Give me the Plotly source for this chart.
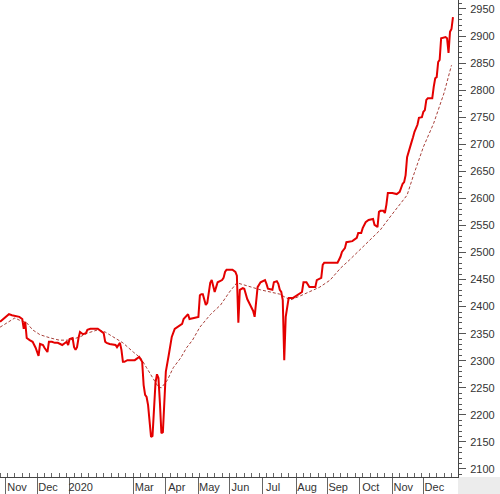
import pandas as pd
import plotly.graph_objects as go

# ---- data (trading session number counted from 2019-11-01 = 0) ----
price_session = [-4, 2, 4, 6, 9, 11, 12, 13, 14, 16, 18, 20, 21, 22, 23, 25, 26, 28, 29, 31,
                 33, 35, 38, 40, 41, 42, 43, 45, 46, 47, 48, 49, 50, 52, 54, 55, 57, 62, 65, 66,
                 67, 68, 70, 74, 75, 77, 78, 79, 80, 82, 87, 89, 90, 92, 93, 94, 95, 96, 97, 98,
                 99, 100, 101, 102, 103, 104, 105, 106, 107, 108, 110, 111, 112, 114, 116, 119, 120, 122, 123, 124,
                 128, 130, 131, 132, 133, 134, 135, 136, 137, 138, 139, 140, 141, 142, 143, 146, 147, 148, 149, 153,
                 155, 156, 157, 158, 160, 161, 163, 165, 167, 168, 169, 170, 172, 175, 176, 177, 180, 181, 183, 184,
                 185, 186, 187, 188, 189, 190, 191, 194, 197, 199, 200, 201, 203, 205, 209, 210, 213, 214, 215, 219,
                 224, 226, 227, 229, 230, 234, 237, 238, 240, 241, 243, 245, 248, 249, 251, 252, 253, 255, 256, 257,
                 258, 261, 264, 266, 268, 269, 270, 271, 272, 273, 274, 275, 276, 278, 279, 281, 282, 283, 284, 285,
                 288, 289, 290, 291, 292, 293, 294, 297, 298, 299, 300, 301, 302]
price_value = [2372, 2386, 2384, 2383, 2381, 2377, 2359, 2372, 2342, 2338, 2335, 2324, 2318, 2309, 2331, 2329, 2324, 2316, 2335, 2335,
               2333, 2333, 2329, 2333, 2335, 2329, 2340, 2342, 2325, 2320, 2325, 2342, 2353, 2349, 2351, 2357, 2359, 2359, 2353, 2351,
               2335, 2333, 2331, 2329, 2325, 2333, 2320, 2298, 2298, 2301, 2301, 2305, 2307, 2298, 2255, 2237, 2233, 2218, 2185, 2159,
               2161, 2209, 2259, 2275, 2268, 2222, 2166, 2168, 2215, 2280, 2311, 2327, 2344, 2359, 2362, 2368, 2377, 2384, 2386, 2377,
               2379, 2381, 2421, 2423, 2423, 2412, 2403, 2407, 2429, 2444, 2449, 2440, 2427, 2436, 2445, 2449, 2453, 2464, 2468, 2468,
               2464, 2457, 2370, 2431, 2434, 2433, 2414, 2403, 2392, 2381, 2403, 2436, 2445, 2449, 2442, 2433, 2431, 2445, 2447, 2442,
               2431, 2427, 2412, 2301, 2381, 2401, 2416, 2416, 2421, 2425, 2427, 2445, 2445, 2436, 2436, 2449, 2453, 2477, 2481, 2481,
               2481, 2492, 2501, 2508, 2519, 2521, 2527, 2536, 2536, 2545, 2556, 2560, 2562, 2551, 2547, 2575, 2577, 2577, 2573, 2588,
               2610, 2610, 2608, 2612, 2627, 2630, 2643, 2676, 2684, 2695, 2704, 2713, 2723, 2736, 2749, 2750, 2760, 2763, 2782, 2785,
               2785, 2806, 2822, 2824, 2852, 2856, 2896, 2898, 2896, 2869, 2908, 2913, 2935]

ma_session = [-4, 3, 6, 9, 14, 18, 23, 30, 36, 43, 50, 55, 62, 67, 72, 79, 86, 91, 95, 99,
              101, 103, 105, 109, 113, 118, 122, 126, 131, 138, 145, 151, 156, 161, 172, 185, 192, 199, 205, 212,
              219, 226, 232, 239, 246, 253, 259, 266, 271, 275, 282, 289, 296, 301]
ma_value = [2362, 2375, 2379, 2375, 2370, 2357, 2348, 2342, 2338, 2338, 2344, 2351, 2357, 2353, 2344, 2333, 2316, 2305, 2287, 2268,
            2259, 2251, 2250, 2264, 2287, 2305, 2324, 2338, 2362, 2385, 2403, 2427, 2444, 2440, 2431, 2423, 2412, 2420, 2427, 2436,
            2449, 2471, 2486, 2505, 2523, 2542, 2564, 2588, 2606, 2640, 2695, 2739, 2795, 2846]

month_starts = ["2019-11-01", "2019-12-01", "2020-01-01", "2020-03-01", "2020-04-01", "2020-05-01",
                "2020-06-01", "2020-07-01", "2020-08-01", "2020-09-01", "2020-10-01", "2020-11-01",
                "2020-12-01"]
month_labels = ["Nov", "Dec", "2020", "Mar", "Apr", "May", "Jun", "Jul", "Aug", "Sep", "Oct", "Nov", "Dec"]

y_ticks = list(range(2100, 2951, 50))

# ---- session index of each month start ----
sessions = pd.bdate_range("2019-11-01", "2020-12-31")
month_session = [int(sessions.searchsorted(pd.Timestamp(d))) for d in month_starts]

fig = go.Figure()
fig.add_trace(go.Scatter(x=ma_session, y=ma_value, mode="lines",
                         line=dict(color="#a8403a", width=1, dash="3px,2px"),
                         hoverinfo="skip", showlegend=False))
fig.add_trace(go.Scatter(x=price_session, y=price_value, mode="lines",
                         line=dict(color="#e40000", width=2),
                         showlegend=False))

font = dict(family="Liberation Sans, Arial, sans-serif", size=11, color="#333333")

fig.update_layout(
    width=500, height=494,
    margin=dict(l=0, r=42, t=0, b=17),
    paper_bgcolor="white", plot_bgcolor="white",
    font=font,
    xaxis=dict(
        range=[-4.05, 305.4], showgrid=False, zeroline=False,
        showline=True, linecolor="#444444", linewidth=1,
        tickmode="array", tickvals=month_session, ticktext=month_labels,
        ticks="outside", ticklen=17, tickcolor="#666666", tickwidth=1,
        ticklabelshift=11, ticklabelstandoff=-17,
        minor=dict(ticks="inside", ticklen=4, dtick=5, tick0=1,
                   tickcolor="#666666", showgrid=False),
        tickfont=font,
    ),
    yaxis=dict(
        side="right", range=[2085.1, 2966.6], showgrid=False, zeroline=False,
        showline=True, linecolor="#444444", linewidth=1,
        tickmode="array", tickvals=y_ticks,
        ticks="outside", ticklen=7, tickcolor="#555555",
        ticklabelstandoff=2,
        minor=dict(ticks="outside", ticklen=3, dtick=10, tick0=2100,
                   tickcolor="#555555", showgrid=False),
        tickfont=font,
    ),
    shapes=[dict(type="rect", xref="paper", yref="paper",
                 x0=1, x1=1 + 42 / 458, y0=-17 / 477, y1=0,
                 fillcolor="#ececec", line=dict(width=0), layer="below")],
)

fig.write_html("out.html", config={"displayModeBar": False},
               post_script="document.body.style.margin='0';")
